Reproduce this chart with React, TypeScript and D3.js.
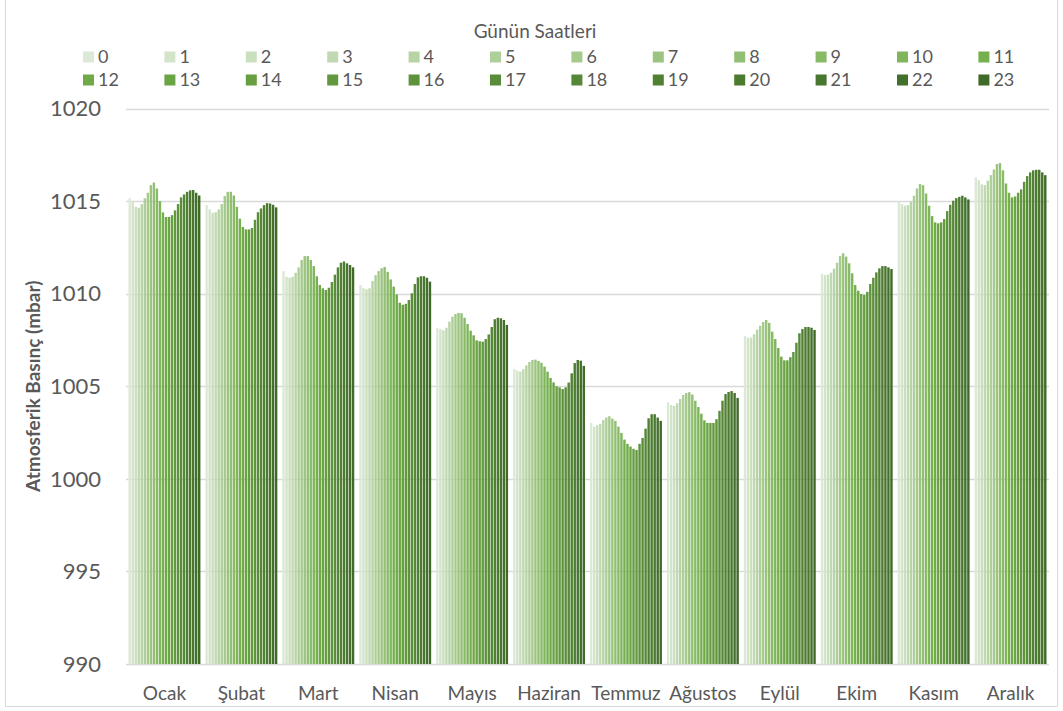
import React from "react";
import * as d3 from "d3";

// Month labels (x axis categories)
const months = ["Ocak", "Şubat", "Mart", "Nisan", "Mayıs", "Haziran", "Temmuz", "Ağustos", "Eylül", "Ekim", "Kasım", "Aralık"];

// Hours of the day (legend series)
const hours = d3.range(24).map((h) => String(h));

// Y axis ticks
const yTicks = [990, 995, 1000, 1005, 1010, 1015, 1020];

// Mean atmospheric pressure (mbar) for each hour 0..23, per month
const ocak = [1015.15, 1014.96, 1014.69, 1014.64, 1014.84, 1015.15, 1015.45, 1015.86, 1016.0, 1015.68, 1015.0, 1014.39, 1014.14, 1014.14, 1014.24, 1014.5, 1014.84, 1015.2, 1015.36, 1015.5, 1015.58, 1015.6, 1015.45, 1015.3];
const subat = [1014.78, 1014.55, 1014.37, 1014.4, 1014.55, 1014.84, 1015.27, 1015.5, 1015.5, 1015.3, 1014.69, 1014.05, 1013.6, 1013.47, 1013.47, 1013.55, 1013.99, 1014.4, 1014.6, 1014.78, 1014.89, 1014.87, 1014.8, 1014.66];
const mart = [1011.22, 1010.91, 1010.86, 1010.91, 1011.13, 1011.42, 1011.82, 1012.03, 1012.03, 1011.82, 1011.49, 1010.94, 1010.47, 1010.29, 1010.2, 1010.32, 1010.63, 1011.03, 1011.42, 1011.67, 1011.74, 1011.64, 1011.55, 1011.42];
const nisan = [1010.47, 1010.3, 1010.23, 1010.29, 1010.68, 1011.0, 1011.22, 1011.37, 1011.44, 1011.18, 1010.77, 1010.38, 1009.96, 1009.51, 1009.4, 1009.45, 1009.66, 1010.02, 1010.52, 1010.88, 1010.94, 1010.94, 1010.86, 1010.65];
const mayis = [1008.15, 1008.08, 1008.02, 1008.16, 1008.49, 1008.76, 1008.9, 1008.96, 1008.94, 1008.7, 1008.36, 1008.0, 1007.75, 1007.48, 1007.43, 1007.41, 1007.55, 1007.8, 1008.2, 1008.62, 1008.7, 1008.67, 1008.58, 1008.31];
const haziran = [1005.93, 1005.84, 1005.79, 1005.92, 1006.13, 1006.31, 1006.42, 1006.44, 1006.37, 1006.27, 1006.06, 1005.79, 1005.45, 1005.21, 1005.0, 1004.94, 1004.85, 1004.94, 1005.2, 1005.7, 1006.25, 1006.42, 1006.38, 1006.1];
const temmuz = [1003.02, 1002.82, 1002.9, 1002.97, 1003.18, 1003.31, 1003.38, 1003.25, 1003.13, 1002.82, 1002.48, 1002.12, 1001.89, 1001.74, 1001.62, 1001.56, 1001.89, 1002.21, 1002.71, 1003.27, 1003.49, 1003.49, 1003.31, 1003.13];
const agustos = [1004.14, 1003.99, 1003.94, 1004.08, 1004.31, 1004.53, 1004.64, 1004.68, 1004.55, 1004.22, 1003.88, 1003.52, 1003.16, 1003.02, 1003.02, 1003.02, 1003.22, 1003.67, 1004.22, 1004.58, 1004.69, 1004.74, 1004.64, 1004.37];
const eylul = [1007.71, 1007.62, 1007.62, 1007.81, 1008.06, 1008.27, 1008.47, 1008.58, 1008.42, 1007.95, 1007.55, 1007.07, 1006.6, 1006.4, 1006.4, 1006.57, 1006.85, 1007.35, 1007.86, 1008.09, 1008.2, 1008.2, 1008.16, 1008.04];
const ekim = [1011.08, 1011.01, 1011.03, 1011.13, 1011.35, 1011.67, 1012.03, 1012.18, 1012.0, 1011.64, 1011.1, 1010.47, 1010.16, 1009.98, 1009.93, 1010.1, 1010.52, 1010.86, 1011.15, 1011.37, 1011.49, 1011.49, 1011.42, 1011.33];
const kasim = [1014.96, 1014.84, 1014.75, 1014.78, 1014.96, 1015.29, 1015.68, 1015.92, 1015.86, 1015.41, 1014.75, 1014.19, 1013.85, 1013.8, 1013.85, 1014.03, 1014.46, 1014.8, 1015.02, 1015.16, 1015.23, 1015.29, 1015.2, 1015.09];
const aralik = [1016.28, 1016.13, 1015.9, 1015.86, 1016.1, 1016.4, 1016.71, 1017.0, 1017.05, 1016.66, 1015.95, 1015.45, 1015.2, 1015.25, 1015.45, 1015.63, 1016.04, 1016.35, 1016.55, 1016.66, 1016.69, 1016.69, 1016.55, 1016.4];

const monthValues = [ocak, subat, mart, nisan, mayis, haziran, temmuz, agustos, eylul, ekim, kasim, aralik];

const W = 1063;
const H = 711;
const plot = { left: 126, right: 1049, top: 108.5, bottom: 664 };
const FONT = "Lato, 'Liberation Sans', Arial, sans-serif";
const TEXT = "#595959";

export default function App() {
  const x = d3.scaleBand<string>().domain(months).range([plot.left, plot.right]).paddingInner(0.065).paddingOuter(0.0325);
  const xi = d3.scaleBand<string>().domain(hours).range([0, x.bandwidth()]).paddingInner(0.2).paddingOuter(0);
  const y = d3.scaleLinear().domain([990, 1020]).range([plot.bottom, plot.top]);
  const color = d3
    .scaleLinear<string>()
    .domain([0, 11.5, 23])
    .range(["#dde9d7", "#71ad48", "#3f6a28"])
    .interpolate(d3.interpolateRgb);

  const legendX0 = 83;
  const legendStep = 81.4;
  const legendRows = [57, 80];

  return (
    <svg width={W} height={H} style={{ position: "absolute", left: 0, top: 0, background: "#fff" }} fontFamily={FONT}>
      <rect x={0} y={0} width={W} height={H} fill="#fff" />
      {/* chart frame */}
      <path d={`M5.5,0 V706.5 H1057.5 V0`} fill="none" stroke="#d9d9d9" strokeWidth={1} />

      {/* gridlines */}
      {yTicks.map((t) => (
        <line key={t} x1={plot.left} x2={plot.right} y1={Math.round(y(t)) + 0.5} y2={Math.round(y(t)) + 0.5} stroke="#d9d9d9" strokeWidth={1.3} />
      ))}

      {/* bars */}
      {months.map((m, mi) => (
        <g key={m} transform={`translate(${x(m)},0)`}>
          {monthValues[mi].map((v, hi) => (
            <rect
              key={hi}
              x={xi(hours[hi])}
              y={y(v)}
              width={xi.bandwidth()}
              height={y(990) - y(v)}
              fill={color(hi)}
            />
          ))}
        </g>
      ))}

      {/* y tick labels */}
      {yTicks.map((t) => (
        <text key={t} x={101} y={y(t)} dy="0.35em" textAnchor="end" fontSize={22} fill={TEXT}>
          {t}
        </text>
      ))}

      {/* x category labels */}
      {months.map((m) => (
        <text key={m} x={(x(m) as number) + x.bandwidth() / 2} y={693} dy="0.35em" textAnchor="middle" fontSize={19} fill={TEXT}>
          {m}
        </text>
      ))}

      {/* y axis title */}
      <text
        transform={`translate(33,${(plot.top + plot.bottom) / 2}) rotate(-90)`}
        textAnchor="middle"
        dy="0.35em"
        fontSize={19}
        fontWeight="bold"
        fill={TEXT}
      >
        Atmosferik Basınç (mbar)
      </text>

      {/* legend */}
      <text x={535} y={31} dy="0.35em" textAnchor="middle" fontSize={19} fill={TEXT}>
        Günün Saatleri
      </text>
      {hours.map((h, i) => {
        const row = Math.floor(i / 12);
        const col = i % 12;
        const lx = legendX0 + col * legendStep;
        const ly = legendRows[row];
        return (
          <g key={h}>
            <rect x={lx} y={ly - 5.5} width={11} height={11} fill={color(i)} />
            <text x={lx + 15} y={ly} dy="0.35em" fontSize={18} fill={TEXT}>
              {h}
            </text>
          </g>
        );
      })}
    </svg>
  );
}
